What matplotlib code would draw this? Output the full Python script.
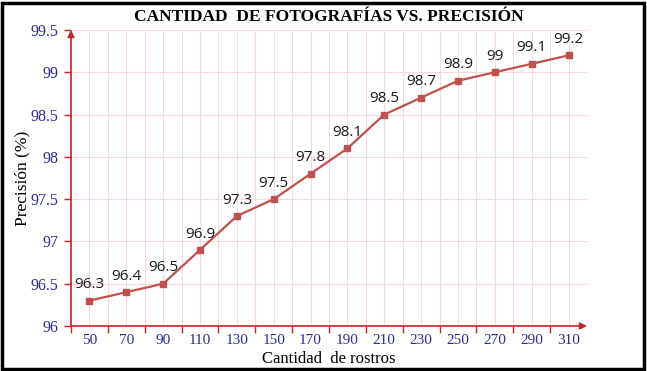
import matplotlib
matplotlib.use("Agg")
import matplotlib.pyplot as plt
from matplotlib.patches import Rectangle

categories = ["50", "70", "90", "110", "130", "150", "170", "190",
              "210", "230", "250", "270", "290", "310"]
precision = [96.3, 96.4, 96.5, 96.9, 97.3, 97.5, 97.8, 98.1,
             98.5, 98.7, 98.9, 99.0, 99.1, 99.2]
value_labels = ["96.3", "96.4", "96.5", "96.9", "97.3", "97.5", "97.8", "98.1",
                "98.5", "98.7", "98.9", "99", "99.1", "99.2"]
y_ticks = [96, 96.5, 97, 97.5, 98, 98.5, 99, 99.5]
y_tick_labels = ["96", "96.5", "97", "97.5", "98", "98.5", "99", "99.5"]

line_color = "#C0504D"
axis_color = "#C0282D"
grid_color = "#F6D9D9"
tick_color = "#2B2B99"
serif = ["Liberation Serif", "DejaVu Serif"]

W, H = 647, 371
fig = plt.figure(figsize=(W / 100, H / 100), dpi=100)
fig.patch.set_facecolor("white")

# black frame round the whole picture
fig.patches.append(Rectangle((1.5 / W, 2.5 / H), 642.5 / W, 366 / H, transform=fig.transFigure,
                             fill=False, edgecolor="black", linewidth=2.5))

ax = fig.add_axes([71 / W, (H - 326) / H, (587 - 71) / W, (326 - 30) / H])
n = len(categories)
x = list(range(n))

ax.set_xlim(-0.5, n - 0.5)
ax.set_ylim(96, 99.5)

# boundaries get tick marks, centres get the labels
ax.set_xticks([i - 0.5 for i in range(n)])
ax.set_xticklabels([])
ax.set_xticks(x, minor=True)
ax.set_xticklabels(categories, minor=True, fontfamily=serif, fontsize=11, color=tick_color)
ax.tick_params(axis="x", which="major", length=5, color=axis_color, width=1)
ax.tick_params(axis="x", which="minor", length=0, pad=6)

ax.set_yticks(y_ticks)
ax.set_yticklabels(y_tick_labels, fontfamily=serif, fontsize=11.5, color=tick_color)
ax.tick_params(axis="y", length=5, color=axis_color, width=1, pad=4)

ax.grid(True, which="both", axis="x", color=grid_color, linewidth=0.8)
ax.grid(True, which="major", axis="y", color=grid_color, linewidth=0.8)
ax.set_axisbelow(True)

for side in ["top", "right", "left", "bottom"]:
    ax.spines[side].set_visible(False)

ax.annotate("", xy=(1.0, 0), xytext=(0, 0), xycoords="axes fraction",
            arrowprops=dict(arrowstyle="-|>", color=axis_color, lw=1.2,
                            mutation_scale=10, shrinkA=0, shrinkB=0))
ax.annotate("", xy=(0, 1.0), xytext=(0, 0), xycoords="axes fraction",
            arrowprops=dict(arrowstyle="-|>", color=axis_color, lw=1.2,
                            mutation_scale=10, shrinkA=0, shrinkB=0))

ax.plot(x, precision, color=line_color, linewidth=1.6, marker="s",
        markersize=4.5, markerfacecolor=line_color, markeredgecolor=line_color,
        clip_on=False, zorder=3)

for xi, yi, lab in zip(x, precision, value_labels):
    ax.annotate(lab, (xi, yi), xytext=(0, 6), textcoords="offset points",
                ha="center", va="bottom", fontsize=11, color="#1a1a1a",
                fontfamily=["Open Sans", "DejaVu Sans"])

ax.set_xlabel("Cantidad  de rostros", fontfamily=serif, fontsize=12)
ax.xaxis.set_label_coords(0.5, (326 - 359) / 296, transform=ax.transAxes)
ax.xaxis.label.set_va("center")
ax.set_ylabel("Precisión (%)", fontfamily=serif, fontsize=12.5)
ax.yaxis.set_label_coords((22 - 71) / 516, 0.5, transform=ax.transAxes)
ax.yaxis.label.set_va("center")

fig.text(0.5 * (71 + 587) / W, (H - 17) / H, "CANTIDAD  DE FOTOGRAFÍAS VS. PRECISIÓN",
         fontfamily=serif, fontsize=12.5, fontweight="bold", ha="center", va="center")

fig.savefig("out.png", dpi=100)
